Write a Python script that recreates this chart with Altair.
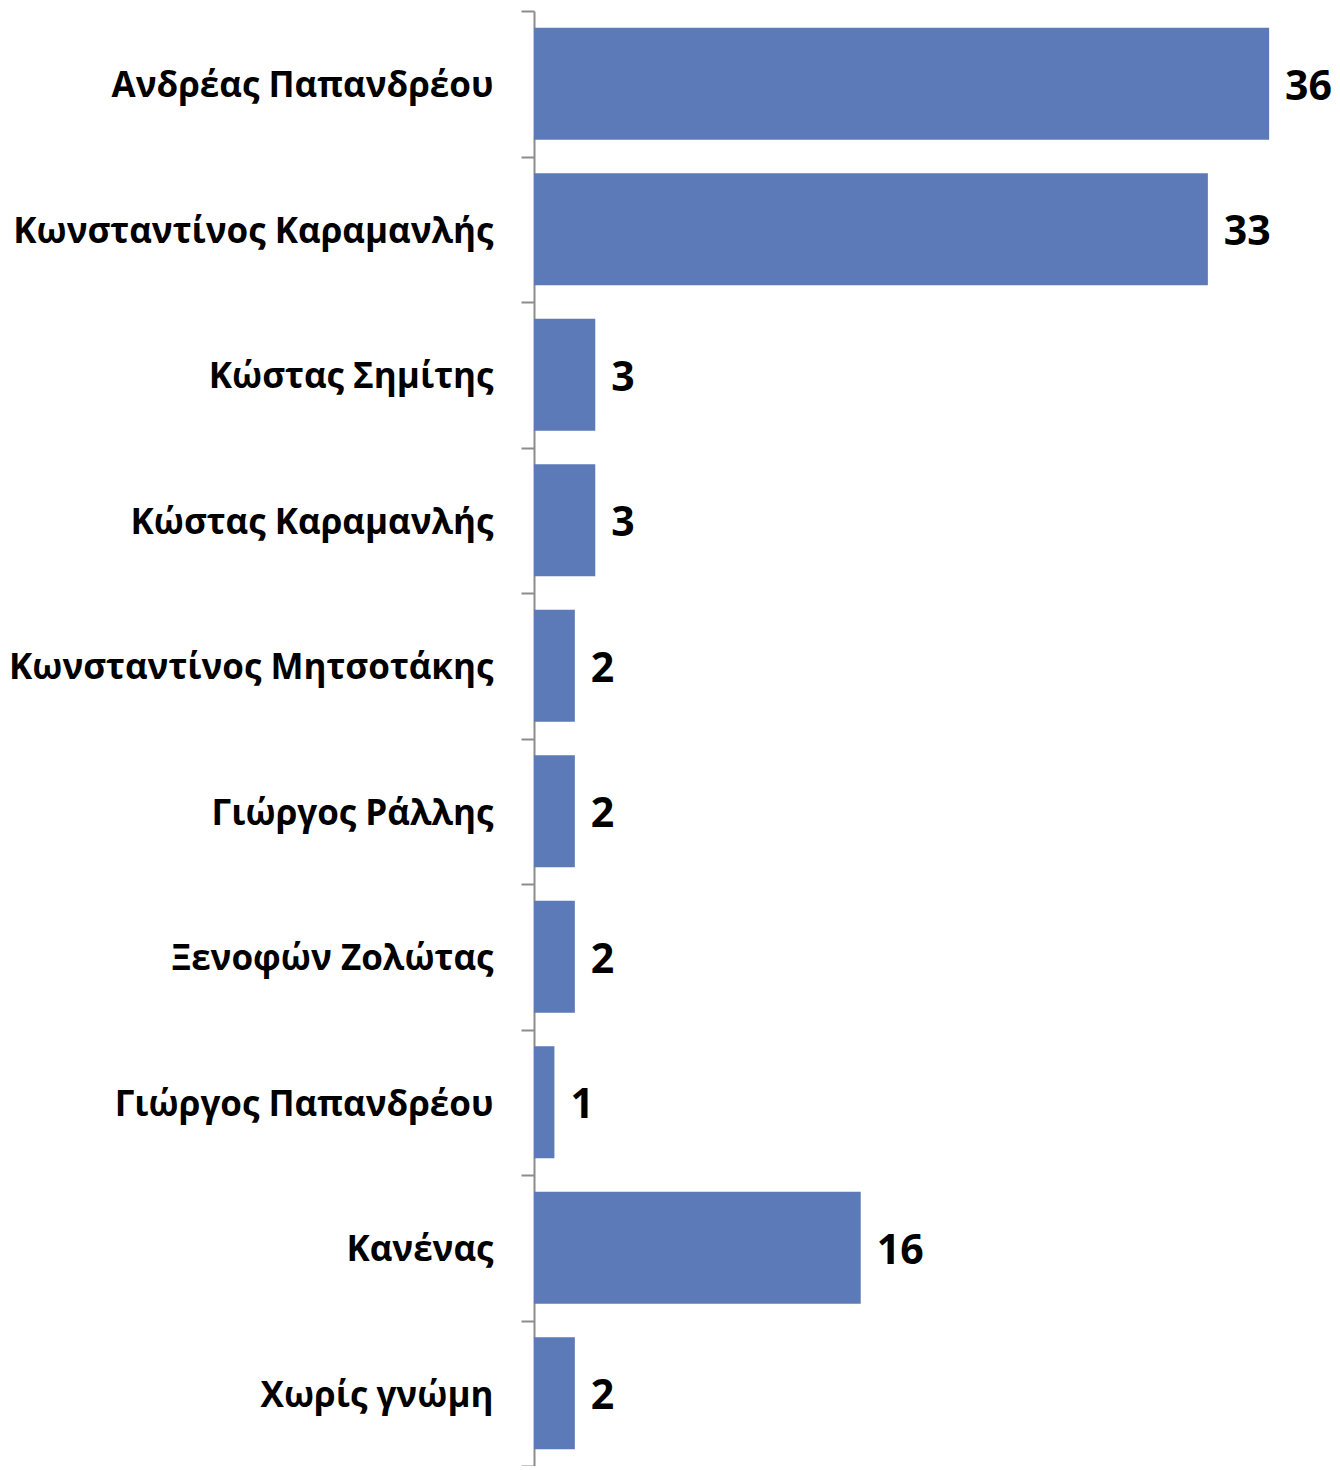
import altair as alt
import pandas as pd

names = [
    "Ανδρέας Παπανδρέου",
    "Κωνσταντίνος Καραμανλής",
    "Κώστας Σημίτης",
    "Κώστας Καραμανλής",
    "Κωνσταντίνος Μητσοτάκης",
    "Γιώργος Ράλλης",
    "Ξενοφών Ζολώτας",
    "Γιώργος Παπανδρέου",
    "Κανένας",
    "Χωρίς γνώμη",
]
values = [36, 33, 3, 3, 2, 2, 2, 1, 16, 2]

df = pd.DataFrame({"name": names, "value": values})

W = 796
H = 1455
x_scale = alt.Scale(domain=[0, W / 20.42], nice=False, zero=True)
y_enc = alt.Y(
    "name:N",
    sort=names,
    scale=alt.Scale(paddingInner=0, paddingOuter=0),
    axis=alt.Axis(
        title=None,
        tickBand="extent",
        tickSize=13,
        tickColor="#8c8c8c",
        tickWidth=2,
        domainColor="#8c8c8c",
        domainWidth=2,
        labelFont="Open Sans",
        labelFontWeight="bold",
        labelFontSize=35,
        labelColor="#000000",
        labelPadding=28,
        labelLimit=600,
        labelOffset=2,
    ),
)

base = alt.Chart(df).encode(y=y_enc)

bars = base.mark_bar(color="#5B7AB7", height={"band": 0.77}).encode(
    x=alt.X("value:Q", scale=x_scale, axis=None)
)
labels = base.mark_text(
    align="left", baseline="middle", dx=16, dy=4, font="Open Sans",
    fontWeight="bold", fontSize=41, color="#000000"
).encode(
    x=alt.X("value:Q", scale=x_scale, axis=None),
    text="value:Q",
)

chart = (
    alt.layer(bars, labels)
    .properties(
        width=W, height=H,
        autosize=alt.AutoSizeParams(type="none"),
        padding={"top": 3, "left": 526, "right": 2, "bottom": 0},
    )
    .configure_view(stroke=None)
)

chart.save("out.html", embed_options={"renderer": "svg", "actions": False})
